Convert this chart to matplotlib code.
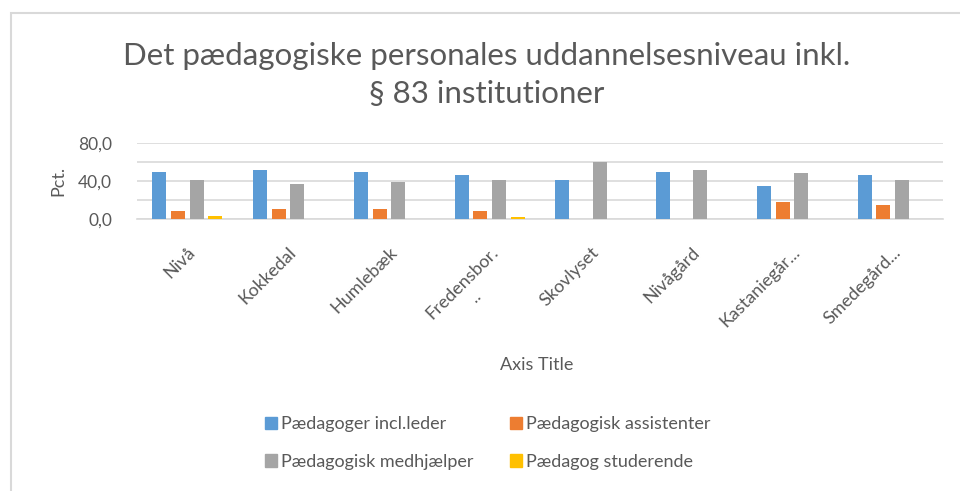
import matplotlib.pyplot as plt
import matplotlib.patches as mpatches
import numpy as np

# data (pct.)
institutions = ["Nivå", "Kokkedal", "Humlebæk", "Fredensbor.\n..", "Skovlyset",
                "Nivågård", "Kastaniegår...", "Smedegård..."]
paedagoger = [50.0, 52.0, 50.0, 46.6, 40.6, 50.0, 35.0, 46.6]
assistenter = [8.7, 10.5, 10.5, 8.7, 0.0, 0.0, 18.0, 14.3]
medhjaelper = [40.6, 37.0, 39.0, 40.6, 60.0, 52.0, 48.4, 40.6]
studerende = [2.7, 0.0, 0.0, 2.5, 0.0, 0.0, 0.0, 0.0]

series_names = ["Pædagoger incl.leder", "Pædagogisk assistenter",
                "Pædagogisk medhjælper", "Pædagog studerende"]
colors = ["#5B9BD5", "#ED7D31", "#A5A5A5", "#FFC000"]
yticks = [0, 20, 40, 60, 80]
ytick_labels = ["0,0", "", "40,0", "", "80,0"]

plt.rcParams['font.family'] = ['Lato', 'DejaVu Sans']
txt = "#595959"

fig = plt.figure(figsize=(9.6, 4.91), dpi=100)
ax = fig.add_axes([137 / 960, 1 - 219 / 491, 806 / 960, 76 / 491])

x = np.arange(len(institutions))
width = 0.14
step = 0.185
all_series = [paedagoger, assistenter, medhjaelper, studerende]
for i, (vals, name, c) in enumerate(zip(all_series, series_names, colors)):
    ax.bar(x + (i - 1.5) * step, vals, width, color=c, label=name, zorder=3)

ax.set_xlim(-0.5, len(institutions) - 0.5)
ax.set_ylim(0, 80)
ax.set_yticks(yticks)
ax.set_yticklabels(ytick_labels, color=txt, fontsize=12.5)
ax.yaxis.grid(True, color="#d9d9d9", lw=1.2, zorder=0)
ax.tick_params(axis="both", length=0)
ax.tick_params(axis="y", pad=18)
for s in ["top", "right", "left"]:
    ax.spines[s].set_visible(False)
ax.spines["bottom"].set_color("#d9d9d9")
ax.spines["bottom"].set_linewidth(1.2)

ax.set_xticks(x)
ax.set_xticklabels(institutions, rotation=45, ha="right", va="top",
                   rotation_mode="anchor", color=txt, fontsize=13,
                   multialignment="center")
ax.tick_params(axis="x", pad=18)

ax.set_ylabel("Pct.", color=txt, fontsize=13)
ax.yaxis.set_label_coords(-71 / 806, 0.5)

fig.text(537 / 960, 1 - 365 / 491, "Axis Title", ha="center", va="center",
         color=txt, fontsize=13)

fig.text(487 / 960, 1 - 75 / 491,
         "Det pædagogiske personales uddannelsesniveau inkl.\n§ 83 institutioner",
         ha="center", va="center", color=txt, fontsize=22.5, linespacing=1.42)

# legend fills row by row in the reference: reorder for matplotlib's column fill
order = [0, 2, 1, 3]
fig.legend([mpatches.Patch(color=colors[i]) for i in order],
           [series_names[i] for i in order], loc="center", ncol=2,
           bbox_to_anchor=(488 / 960, 1 - 443 / 491), frameon=False,
           fontsize=13, labelcolor=txt, handlelength=0.65, handleheight=0.65,
           handletextpad=0.25, columnspacing=2.0, labelspacing=1.2)

# chart border (light gray, running off the right/bottom edge)
border = mpatches.Rectangle((10.5 / 960, -0.05), 1.2, 1 - 13 / 491 + 0.05,
                            transform=fig.transFigure, fill=False,
                            edgecolor="#d9d9d9", lw=1.5)
fig.patches.append(border)

fig.savefig("out.png", dpi=100)
